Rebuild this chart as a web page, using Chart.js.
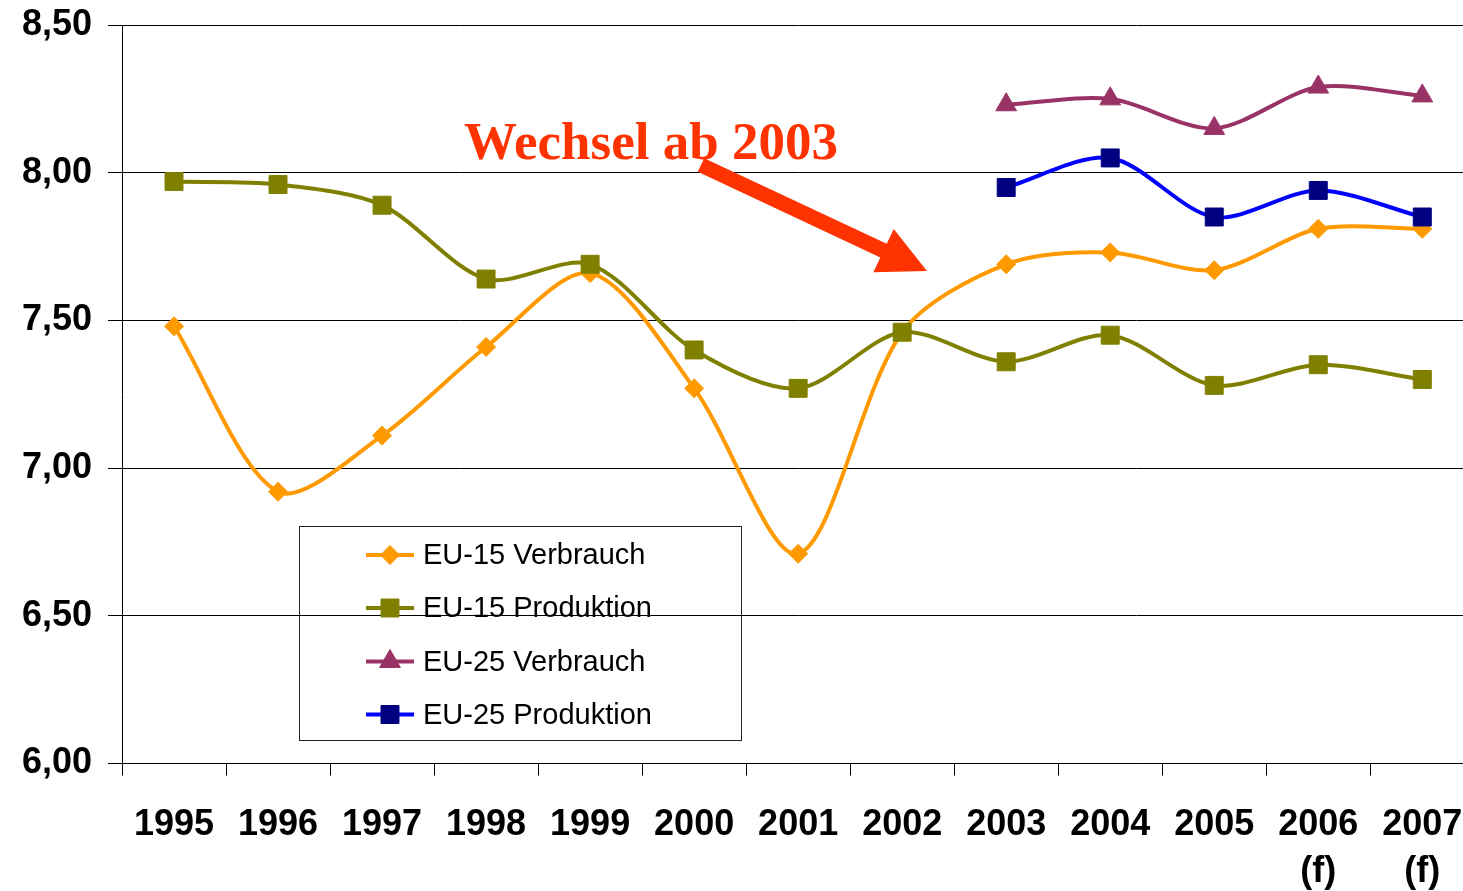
<!DOCTYPE html>
<html>
<head>
<meta charset="utf-8">
<script src="https://cdn.jsdelivr.net/npm/chart.js@4/dist/chart.umd.min.js"></script>
<style>
  html, body { margin: 0; padding: 0; background: #fff; overflow: hidden; }
  #wrap { width: 1488px; height: 891px; }
</style>
</head>
<body>
<div id="wrap"><canvas id="c" width="1488" height="891"></canvas></div>
<script>
const years = ['1995','1996','1997','1998','1999','2000','2001','2002','2003','2004','2005',['2006','(f)'],['2007','(f)']];
const eu15Verbrauch  = [7.48, 6.92, 7.11, 7.41, 7.66, 7.27, 6.71, 7.46, 7.69, 7.73, 7.67, 7.81, 7.81];
const eu15Produktion = [7.97, 7.96, 7.89, 7.64, 7.69, 7.40, 7.27, 7.46, 7.36, 7.45, 7.28, 7.35, 7.30];
const eu25Verbrauch  = [null, null, null, null, null, null, null, null, 8.23, 8.25, 8.15, 8.29, 8.26];
const eu25Produktion = [null, null, null, null, null, null, null, null, 7.95, 8.05, 7.85, 7.94, 7.85];
const yTickLabels = ['6,00', '6,50', '7,00', '7,50', '8,00', '8,50'];
const seriesNames = ['EU-15 Verbrauch', 'EU-15 Produktion', 'EU-25 Verbrauch', 'EU-25 Produktion'];
const annotationText = 'Wechsel ab 2003';

const SANS = '"Liberation Sans", Arial, sans-serif';
const SERIF = '"Liberation Serif", "Times New Roman", serif';

function ds(label, data, line, marker, style, radius, order) {
  return {
    label, data, order,
    borderColor: line, backgroundColor: marker,
    borderWidth: 4,
    pointStyle: style, pointRadius: radius, pointHoverRadius: radius,
    pointBackgroundColor: marker, pointBorderColor: marker, pointBorderWidth: 1,
    tension: 0.3, fill: false, spanGaps: false
  };
}

const datasets = [
  ds(seriesNames[0], eu15Verbrauch, '#FF9900', '#FF9900', 'rectRot', 9.5, 4),
  ds(seriesNames[1], eu15Produktion, '#808000', '#808000', 'rect', 12.7, 3),
  ds(seriesNames[2], eu25Verbrauch, '#993366', '#993366', 'triangle', 12, 2),
  ds(seriesNames[3], eu25Produktion, '#0000FF', '#000080', 'rect', 12.7, 1)
];

const overlay = {
  id: 'overlay',
  afterDraw(chart) {
    const ctx = chart.ctx;
    ctx.save();
    // annotation text
    ctx.fillStyle = '#FF3300';
    ctx.font = 'bold 53px ' + SERIF;
    ctx.textBaseline = 'alphabetic';
    ctx.textAlign = 'left';
    ctx.fillText(annotationText, 464, 159);
    // arrow
    const sx = 701, sy = 165, tx = 927, ty = 271;
    const dx = tx - sx, dy = ty - sy, L = Math.hypot(dx, dy);
    const ux = dx / L, uy = dy / L, px = -uy, py = ux;
    const headLen = 48, headHalf = 24, shaftHalf = 7.5;
    const bx = tx - ux * headLen, by = ty - uy * headLen;
    ctx.beginPath();
    ctx.moveTo(sx + px * shaftHalf, sy + py * shaftHalf);
    ctx.lineTo(bx + px * shaftHalf, by + py * shaftHalf);
    ctx.lineTo(bx + px * headHalf, by + py * headHalf);
    ctx.lineTo(tx, ty);
    ctx.lineTo(bx - px * headHalf, by - py * headHalf);
    ctx.lineTo(bx - px * shaftHalf, by - py * shaftHalf);
    ctx.lineTo(sx - px * shaftHalf, sy - py * shaftHalf);
    ctx.closePath();
    ctx.fill();
    // legend box
    ctx.strokeStyle = '#222';
    ctx.lineWidth = 1;
    ctx.strokeRect(299.5, 526.5, 442, 214);
    const rows = [555, 608, 661.5, 714.5];
    ctx.font = '29px ' + SANS;
    ctx.textBaseline = 'middle';
    datasets.forEach((d, i) => {
      const y = rows[i];
      ctx.strokeStyle = d.borderColor;
      ctx.lineWidth = 4;
      ctx.beginPath();
      ctx.moveTo(366, y);
      ctx.lineTo(414, y);
      ctx.stroke();
      ctx.fillStyle = d.pointBackgroundColor;
      ctx.strokeStyle = d.pointBorderColor;
      ctx.lineWidth = 1;
      Chart.helpers.drawPoint(ctx, {pointStyle: d.pointStyle, rotation: 0, radius: d.pointRadius, borderWidth: 1}, 390, y);
      ctx.fillStyle = '#000';
      ctx.fillText(d.label, 423, y + 1);
    });
    ctx.restore();
  }
};

new Chart(document.getElementById('c'), {
  type: 'line',
  data: { labels: years, datasets },
  options: {
    responsive: false,
    animation: false,
    devicePixelRatio: 1,
    layout: { padding: { top: 24, left: 0, right: 6, bottom: 0 } },
    plugins: { legend: { display: false }, tooltip: { enabled: false } },
    scales: {
      x: {
        type: 'category',
        offset: true,
        grid: { display: true, drawOnChartArea: false, drawTicks: true, tickLength: 12, color: '#000', offset: true },
        border: { display: true, color: '#000', width: 1 },
        ticks: {
          autoSkip: false, maxRotation: 0, minRotation: 0, padding: 27,
          color: '#000',
          font: { family: SANS, size: 36, weight: 'bold', lineHeight: 1.28 }
        },
        afterFit(s) { s.height = 891 - 763.5; s.paddingLeft = 0; s.paddingRight = 0; }
      },
      y: {
        min: 6, max: 8.5,
        grid: { color: '#000', lineWidth: 1, tickLength: 14, drawTicks: true },
        border: { display: true, color: '#000', width: 1 },
        ticks: {
          stepSize: 0.5, padding: 16, color: '#000',
          font: { family: SANS, size: 36, weight: 'bold', lineHeight: 0.5 },
          callback: (v, i) => yTickLabels[i]
        },
        afterFit(s) { s.width = 122; }
      }
    }
  },
  plugins: [overlay]
});
</script>
</body>
</html>
